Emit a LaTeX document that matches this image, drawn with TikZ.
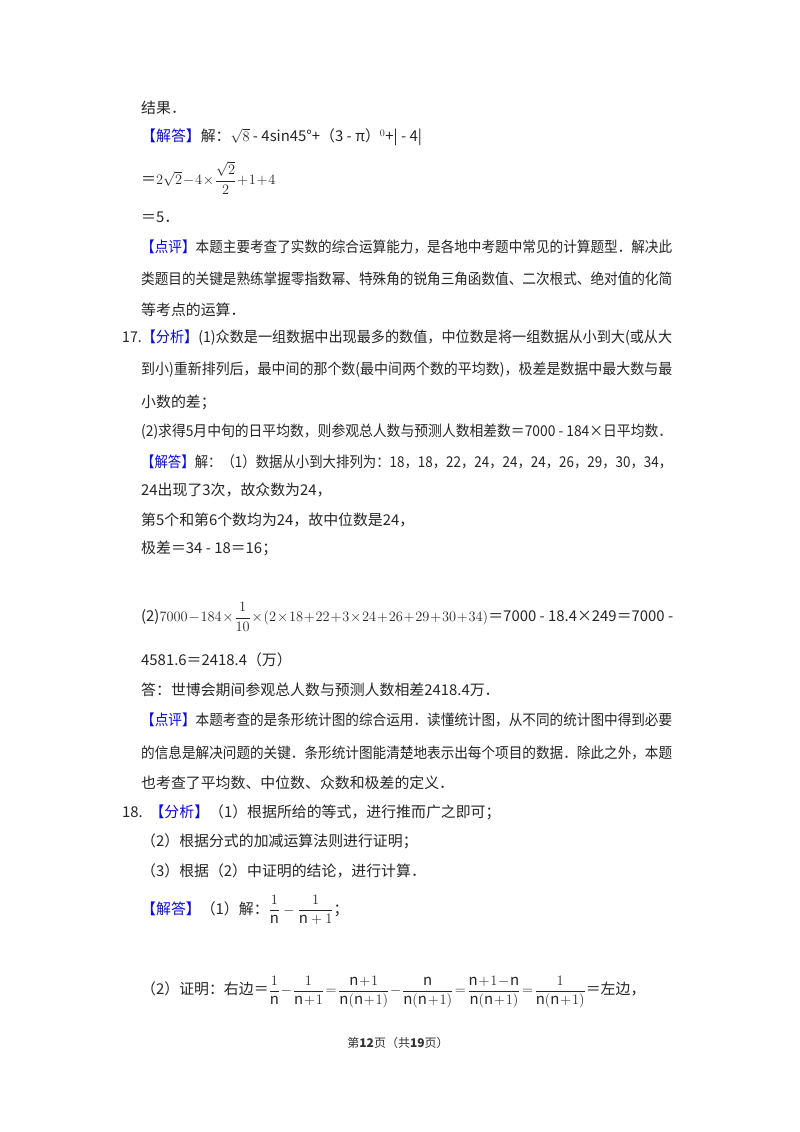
\documentclass[tikz,border=0pt]{standalone}
\usepackage{fontspec}
\usepackage{graphicx}
\setmainfont{Noto Sans CJK SC}
\usepackage{amsmath}
\definecolor{kblue}{RGB}{10,10,230}
\newcommand{\kb}[1]{\textcolor{kblue}{#1}}
\newcommand{\tm}{\medmuskip=1mu\thickmuskip=2mu\thinmuskip=1mu}
\newcommand{\fw}[2][531pt]{\resizebox{#1}{\height}{#2}}
\begin{document}
\begin{tikzpicture}[x=1pt,y=-1pt,
  ln/.style={anchor=west,inner sep=0pt,font=\fontsize{14.9}{16}\selectfont,text=black!85}]
\useasboundingbox (0,0) rectangle (800,1132);
\fill[white] (0,0) rectangle (800,1132);
\node[ln] (l1) at (141,108) {结果．};
\node[ln] (l2) at (141,137) {\kb{【解答】}解：$\sqrt{8}$ - 4sin45°+（3 - π）$^{0}$+| - 4|};
\node[ln] (l3) at (141,178) {\tm ＝$2\sqrt{2}-4\times\dfrac{\sqrt{2}}{2}+1+4$};
\node[ln] (l4) at (141,217) {＝5．};
\node[ln] (l5) at (141,247) {\fw{\kb{【点评】}本题主要考查了实数的综合运算能力，是各地中考题中常见的计算题型．解决此}};
\node[ln] (l6) at (141,279) {\fw{类题目的关键是熟练掌握零指数幂、特殊角的锐角三角函数值、二次根式、绝对值的化简}};
\node[ln] (l7) at (141,310) {等考点的运算．};
\node[ln] (l8) at (122,338) {\fw[550pt]{17.\kb{【分析】}(1)众数是一组数据中出现最多的数值，中位数是将一组数据从小到大(或从大}};
\node[ln] (l9) at (141,370) {\fw{到小)重新排列后，最中间的那个数(最中间两个数的平均数)，极差是数据中最大数与最}};
\node[ln] (l10) at (141,402) {小数的差；};
\node[ln] (l11) at (141,432) {\fw{(2)求得5月中旬的日平均数，则参观总人数与预测人数相差数＝7000 - 184×日平均数．}};
\node[ln] (l12) at (141,462) {\fw{\kb{【解答】}解：（1）数据从小到大排列为：18，18，22，24，24，24，26，29，30，34，}};
\node[ln] (l13) at (141,490) {24出现了3次，故众数为24，};
\node[ln] (l14) at (141,520) {第5个和第6个数均为24，故中位数是24，};
\node[ln] (l15) at (141,548) {极差＝34 - 18＝16；};
\node[ln] (l16) at (141,617) {\fw[532pt]{\tm(2)$7000-184\times\dfrac{1}{10}\times(2\times18+22+3\times24+26+29+30+34)$＝7000 - 18.4×249＝7000 -}};
\node[ln] (l17) at (141,660) {4581.6＝2418.4（万）};
\node[ln] (l18) at (141,690) {答：世博会期间参观总人数与预测人数相差2418.4万．};
\node[ln] (l19) at (141,720) {\fw{\kb{【点评】}本题考查的是条形统计图的综合运用．读懂统计图，从不同的统计图中得到必要}};
\node[ln] (l20) at (141,753) {\fw{的信息是解决问题的关键．条形统计图能清楚地表示出每个项目的数据．除此之外，本题}};
\node[ln] (l21) at (141,783) {也考查了平均数、中位数、众数和极差的定义．};
\node[ln] (l22) at (122,812) {18.~~\kb{【分析】}（1）根据所给的等式，进行推而广之即可；};
\node[ln] (l23) at (141,841) {（2）根据分式的加减运算法则进行证明；};
\node[ln] (l24) at (141,871) {（3）根据（2）中证明的结论，进行计算．};
\node[ln] (l25) at (141,910) {\kb{【解答】}（1）解：$\dfrac{1}{\mathrm{n}}-\dfrac{1}{\mathrm{n}+1}$；};
\node[ln] (l26) at (141,992) {\tm（2）证明：右边＝$\dfrac{1}{\mathrm{n}}-\dfrac{1}{\mathrm{n}+1}=\dfrac{\mathrm{n}+1}{\mathrm{n}(\mathrm{n}+1)}-\dfrac{\mathrm{n}}{\mathrm{n}(\mathrm{n}+1)}=\dfrac{\mathrm{n}+1-\mathrm{n}}{\mathrm{n}(\mathrm{n}+1)}=\dfrac{1}{\mathrm{n}(\mathrm{n}+1)}$＝左边，};
\node[anchor=center,inner sep=0pt,font=\fontsize{12}{14}\selectfont,text=black!80] (ft) at (398,1043) {第\textbf{12}页（共\textbf{19}页）};
\end{tikzpicture}
\end{document}
